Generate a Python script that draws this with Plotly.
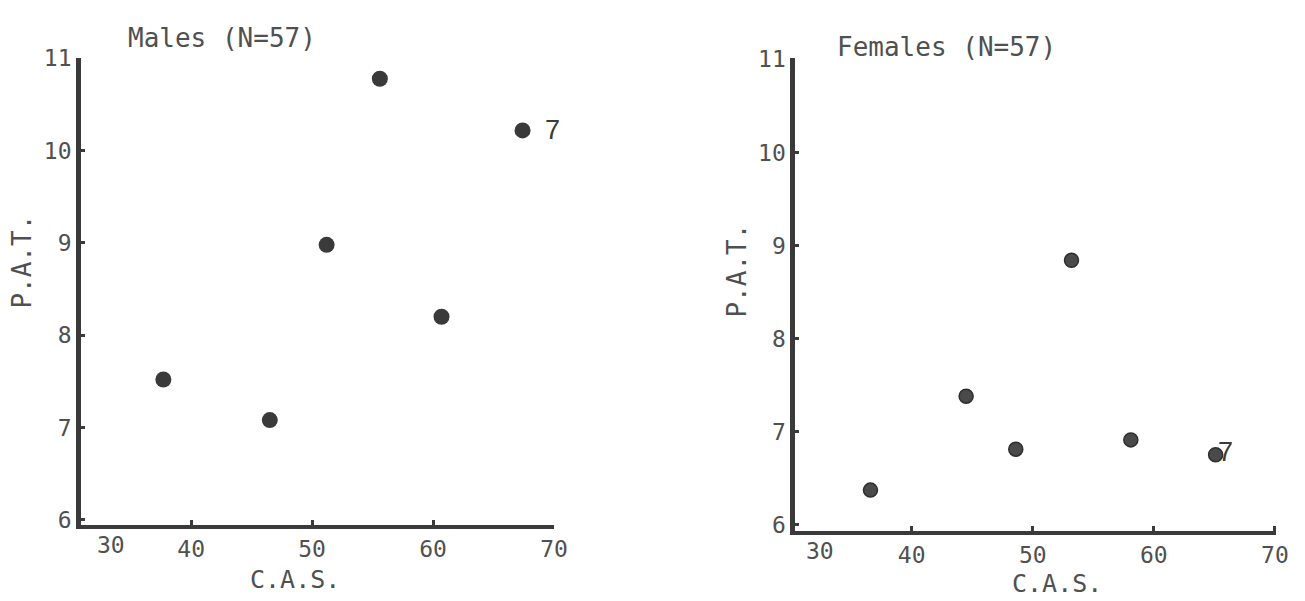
import plotly.graph_objects as go

# C.A.S. vs P.A.T. scores, one panel per sex
male_cas = [37.7, 46.5, 51.2, 55.6, 60.7, 67.4]
male_pat = [7.52, 7.08, 8.98, 10.78, 8.20, 10.22]
male_labels = ["", "", "", "", "", "7"]

female_cas = [36.6, 44.5, 48.6, 53.2, 58.1, 65.1]
female_pat = [6.37, 7.38, 6.81, 8.84, 6.91, 6.75]
female_labels = ["", "", "", "", "", "7"]

x_ticks = [40, 50, 60, 70]
y_ticks = [6, 7, 8, 9, 10, 11]

W, H = 1305, 601
INK = "#3a3a3a"
TEXT = "#505050"
MONO = "DejaVu Sans Mono"


def px_x(p):
    return p / W


def px_y(p):
    return 1 - p / H


fig = go.Figure()

fig.add_trace(go.Scatter(
    x=male_cas, y=male_pat, mode="markers",
    marker=dict(size=16, color=INK, line=dict(width=0)),
    xaxis="x", yaxis="y", showlegend=False,
))
fig.add_trace(go.Scatter(
    x=female_cas, y=female_pat, mode="markers",
    marker=dict(size=14, color="#4a4a4a", line=dict(width=1.5, color="#2e2e2e")),
    xaxis="x2", yaxis="y2", showlegend=False,
))

axis_common = dict(
    showline=True, linecolor=INK, showgrid=False, zeroline=False,
    ticks="inside", tickcolor=INK, tickwidth=3,
    tickfont=dict(family=MONO, size=23, color=TEXT),
    fixedrange=True,
)

fig.update_layout(
    width=W, height=H,
    margin=dict(l=0, r=0, t=0, b=0),
    paper_bgcolor="white", plot_bgcolor="white",
    xaxis=dict(axis_common, domain=[px_x(82), px_x(560)], range=[30.9, 70.0],
               tickvals=x_ticks, ticklen=5, linewidth=4, anchor="y"),
    yaxis=dict(axis_common, domain=[px_y(530), px_y(47)], range=[5.94, 11.01],
               tickvals=y_ticks, ticklen=4, linewidth=5, anchor="x"),
    xaxis2=dict(axis_common, domain=[px_x(804), px_x(1290)], range=[30.4, 70.1],
                tickvals=x_ticks, ticklen=5, linewidth=4, anchor="y2"),
    yaxis2=dict(axis_common, domain=[px_y(536), px_y(48)], range=[5.93, 11.01],
                tickvals=y_ticks, ticklen=4, linewidth=5, anchor="x2"),
)

annotations = []


def text_at(x, y, s, size=26, xanchor="center", yanchor="middle", angle=0, family=MONO):
    annotations.append(dict(
        x=px_x(x), y=px_y(y), xref="paper", yref="paper", text=s, showarrow=False,
        xanchor=xanchor, yanchor=yanchor, textangle=angle, borderpad=0,
        font=dict(family=family, size=size, color=TEXT),
    ))


# panel titles
text_at(128, 27, "Males (N=57)", xanchor="left")
text_at(845, 36, "Females (N=57)", xanchor="left")
# axis titles
text_at(298, 586, "C.A.S.", size=25)
text_at(1068, 590, "C.A.S.", size=25)
text_at(22, 258, "P.A.T.", angle=-90)
text_at(745, 267, "P.A.T.", angle=-90)

# the "30" label sits just inside the origin corner of each panel
for xa, ya, xv in (("x", "y", 33.4), ("x2", "y2", 32.4)):
    annotations.append(dict(
        x=xv, y=0, xref=xa, yref=ya + " domain", text="30", showarrow=False,
        xanchor="center", yanchor="top", yshift=-6, borderpad=0,
        font=dict(family=MONO, size=23, color=TEXT),
    ))

# point labels
for xs, ys, labs, xa, ya, dx, dy in (
    (male_cas, male_pat, male_labels, "x", "y", 30, 0),
    (female_cas, female_pat, female_labels, "x2", "y2", 10, 3),
):
    for xv, yv, lab in zip(xs, ys, labs):
        if lab:
            annotations.append(dict(
                x=xv, y=yv, xref=xa, yref=ya, text=lab, showarrow=False,
                xshift=dx, yshift=dy, xanchor="center", yanchor="middle",
                font=dict(family="Liberation Sans", size=27, color="#3a3a3a"),
            ))

fig.update_layout(annotations=annotations)

fig.write_html("out.html")
